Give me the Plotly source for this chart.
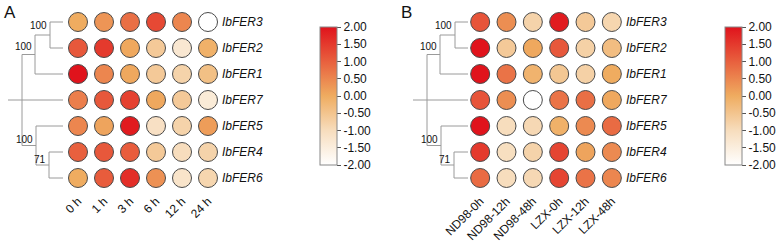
import plotly.graph_objects as go

genes = ["IbFER3", "IbFER2", "IbFER1", "IbFER7", "IbFER5", "IbFER4", "IbFER6"]
cols_a = ["0 h", "1 h", "3 h", "6 h", "12 h", "24 h"]
cols_b = ["ND98-0h", "ND98-12h", "ND98-48h", "LZX-0h", "LZX-12h", "LZX-48h"]

vals_a = [
    [0.0, 0.3, 0.8, 1.3, 0.5, -2.0],
    [1.1, 1.5, 0.05, -0.6, -1.3, -0.1],
    [2.0, 0.5, 0.05, -0.6, -0.8, -0.4],
    [0.6, 1.1, 1.4, 0.05, -0.6, -1.4],
    [0.5, 0.1, 1.9, -1.1, -0.8, 0.2],
    [1.0, 1.1, 1.05, -0.6, -1.0, -0.8],
    [0.0, 1.05, 1.65, 0.35, -1.2, -0.85],
]
vals_b = [
    [1.15, 0.4, -0.8, 1.9, -0.6, -0.85],
    [2.0, -0.6, 0.05, 1.1, -0.75, -0.35],
    [2.0, 0.75, -0.15, -0.55, -0.75, 0.0],
    [1.15, 0.4, -2.0, 0.75, 0.8, 0.05],
    [2.0, -1.0, -0.9, -0.1, 0.45, 0.85],
    [1.5, -1.05, -0.8, 1.35, 0.1, 0.45],
    [0.85, -1.0, -0.9, 1.35, 0.75, 0.5],
]
bar_ticks = [2.0, 1.5, 1.0, 0.5, 0.0, -0.5, -1.0, -1.5, -2.0]
bootstrap = ["100", "100", "100", "71"]

W, H = 778, 251
FONT = "Arial, Liberation Sans, sans-serif"
cscale = [[0.0, "#FFFFFF"], [0.25, "#F7DDBD"], [0.5, "#EFAC60"], [0.75, "#E8603E"], [1.0, "#E0131C"]]


def px(x):
    return x / W


def py(y):
    return 1 - y / H


fig = go.Figure()


def add_panel(cols, vals, xa, ya, cbx):
    xs, ys, cs = [], [], []
    for gi, g in enumerate(genes):
        for ci, c in enumerate(cols):
            xs.append(c)
            ys.append(g)
            cs.append(vals[gi][ci])
    fig.add_trace(go.Scatter(
        x=xs, y=ys, mode="markers", xaxis=xa, yaxis=ya, showlegend=False,
        marker=dict(
            size=19, color=cs, colorscale=cscale, cmin=-2, cmax=2,
            line=dict(color="#4a4a4a", width=1),
            colorbar=dict(
                x=px(cbx), xanchor="left", y=py(96), yanchor="middle",
                len=138 / H, lenmode="fraction", thickness=17,
                outlinecolor="#888888", outlinewidth=1, xpad=0, ypad=0,
                ticks="outside", ticklen=4, tickcolor="#555555",
                tickvals=bar_ticks, ticktext=[f"{v:.2f}" for v in bar_ticks],
                tickfont=dict(family=FONT, size=12, color="#111"),
            ),
        ),
    ))


add_panel(cols_a, vals_a, "x", "y", 320)
add_panel(cols_b, vals_b, "x2", "y2", 725)

ydom = [py(191), py(9)]
axis_common = dict(showgrid=False, zeroline=False, showline=False, automargin=False)
fig.update_layout(
    width=W, height=H, margin=dict(l=0, r=0, t=0, b=0, autoexpand=False),
    paper_bgcolor="white", plot_bgcolor="white",
    xaxis=dict(domain=[px(65), px(221)], type="category", categoryarray=cols_a, range=[-0.5, 5.5],
               tickangle=-45, ticks="", tickfont=dict(family=FONT, size=12, color="#111"), anchor="y", **axis_common),
    yaxis=dict(domain=ydom, type="category", categoryarray=genes, range=[6.5, -0.5], side="right",
               ticks="", tickfont=dict(family=FONT, size=12, color="#111", style="italic"), anchor="x", **axis_common),
    xaxis2=dict(domain=[px(467), px(625)], type="category", categoryarray=cols_b, range=[-0.5, 5.5],
                tickangle=-45, ticks="", tickfont=dict(family=FONT, size=12, color="#111"), anchor="y2", **axis_common),
    yaxis2=dict(domain=ydom, type="category", categoryarray=genes, range=[6.5, -0.5], side="right",
                ticks="", tickfont=dict(family=FONT, size=12, color="#111", style="italic"), anchor="x2", **axis_common),
)

shapes = []
annots = []


def tree(off, yref):
    lc = dict(color="#9a9a9a", width=1)

    def h(x0, x1, y):
        shapes.append(dict(type="line", xref="paper", yref=yref, x0=px(x0 + off), x1=px(x1 + off), y0=y, y1=y, line=lc))

    def v(x, y0, y1):
        shapes.append(dict(type="line", xref="paper", yref=yref, x0=px(x + off), x1=px(x + off), y0=y0, y1=y1, line=lc))

    leaf_end = 63
    # clade 1
    h(50, leaf_end, 0); h(50, leaf_end, 1); v(50, 0, 1)
    h(35, 50, 0.5); h(35, leaf_end, 2); v(35, 0.5, 2)
    h(22, 35, 1.25)
    # clade 2
    h(49, leaf_end, 5); h(49, leaf_end, 6); v(49, 5, 6)
    h(36, 49, 5.5); h(36, leaf_end, 4); v(36, 4, 5.5)
    h(22, 36, 4.75)
    # root
    v(22, 1.25, 4.75)
    h(8, leaf_end, 3)
    for (xx, yy), t in zip([(49, 0.15), (34, 0.95), (35, 4.5), (48, 5.27)], bootstrap):
        annots.append(dict(text=t, xref="paper", yref=yref, x=px(xx + off), y=yy, xanchor="right",
                           yanchor="middle", showarrow=False, font=dict(family=FONT, size=10, color="#111")))


tree(0, "y")
tree(405, "y2")

for lab, x in [("A", 2), ("B", 399)]:
    annots.append(dict(text=lab, xref="paper", yref="paper", x=px(x), y=py(1), xanchor="left", yanchor="top",
                       showarrow=False, font=dict(family=FONT, size=17, color="#111")))

fig.update_layout(shapes=shapes, annotations=annots)
fig.write_html("out.html", config={"displayModeBar": False},
               post_script="document.body.style.margin='0';document.body.style.overflow='hidden';")
